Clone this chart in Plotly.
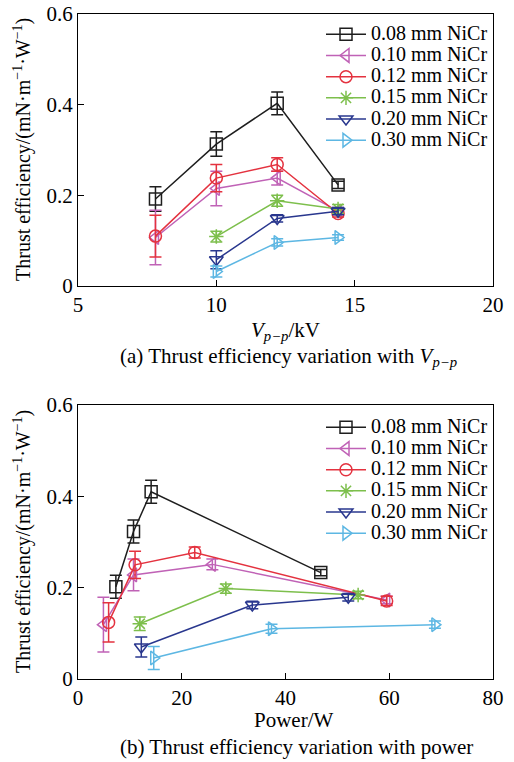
import plotly.graph_objects as go

# ---------------- data ----------------
series_names = ["0.08 mm NiCr", "0.10 mm NiCr", "0.12 mm NiCr",
                "0.15 mm NiCr", "0.20 mm NiCr", "0.30 mm NiCr"]

# (a) efficiency vs Vp-p
vpp_008 = [7.8, 10.0, 12.2, 14.4]
vpp_010 = [7.8, 10.0, 12.2, 14.4]
vpp_012 = [7.8, 10.0, 12.2, 14.4]
vpp_015 = [10.0, 12.2, 14.4]
vpp_020 = [10.0, 12.2, 14.4]
vpp_030 = [10.0, 12.2, 14.4]

eff_a_008 = [0.192, 0.313, 0.403, 0.223]
eff_a_010 = [0.107, 0.215, 0.238, 0.165]
eff_a_012 = [0.110, 0.238, 0.268, 0.160]
eff_a_015 = [0.109, 0.188, 0.170]
eff_a_020 = [0.058, 0.149, 0.165]
eff_a_030 = [0.032, 0.096, 0.107]

err_a_008 = [0.027, 0.027, 0.025, 0.008]
err_a_010 = [0.060, 0.038, 0.015, 0.008]
err_a_012 = [0.046, 0.030, 0.015, 0.008]
err_a_015 = [0.012, 0.012, 0.010]
err_a_020 = [0.020, 0.008, 0.008]
err_a_030 = [0.012, 0.008, 0.006]

# (b) efficiency vs power
pow_008 = [7.3, 10.7, 14.1, 46.8]
pow_010 = [4.9, 10.7, 25.9, 59.5]
pow_012 = [5.9, 11.0, 22.5, 59.5]
pow_015 = [11.9, 28.5, 54.0]
pow_020 = [12.2, 33.6, 52.1]
pow_030 = [14.6, 37.3, 68.8]

eff_b_008 = [0.202, 0.323, 0.410, 0.233]
eff_b_010 = [0.119, 0.228, 0.251, 0.173]
eff_b_012 = [0.124, 0.250, 0.277, 0.171]
eff_b_015 = [0.121, 0.198, 0.184]
eff_b_020 = [0.070, 0.162, 0.179]
eff_b_030 = [0.046, 0.110, 0.119]

err_b_008 = [0.025, 0.025, 0.025, 0.007]
err_b_010 = [0.060, 0.035, 0.012, 0.008]
err_b_012 = [0.043, 0.030, 0.012, 0.010]
err_b_015 = [0.015, 0.010, 0.008]
err_b_020 = [0.022, 0.008, 0.008]
err_b_030 = [0.025, 0.010, 0.008]

x_ticks_a = [5, 10, 15, 20]
x_ticks_b = [0, 20, 40, 60, 80]
y_ticks = [0, 0.2, 0.4, 0.6]
y_tick_text = ["0", "0.2", "0.4", "0.6"]

# ---------------- styles ----------------
colors = ["#1e1e1e", "#c062b6", "#e4323f", "#7dbf4c", "#29378e", "#5db7e3"]
symbols = ["square-open", "triangle-left-open", "circle-open",
           "asterisk-open", "triangle-down-open", "triangle-right-open"]
FONT = "Liberation Serif, Times New Roman, serif"

data_a = [(vpp_008, eff_a_008, err_a_008), (vpp_010, eff_a_010, err_a_010),
          (vpp_012, eff_a_012, err_a_012), (vpp_015, eff_a_015, err_a_015),
          (vpp_020, eff_a_020, err_a_020), (vpp_030, eff_a_030, err_a_030)]
data_b = [(pow_008, eff_b_008, err_b_008), (pow_010, eff_b_010, err_b_010),
          (pow_012, eff_b_012, err_b_012), (pow_015, eff_b_015, err_b_015),
          (pow_020, eff_b_020, err_b_020), (pow_030, eff_b_030, err_b_030)]

fig = go.Figure()

for panel, (dataset, xa, ya, leg) in enumerate([(data_a, "x", "y", "legend"),
                                                (data_b, "x2", "y2", "legend2")]):
    for i, (xs, ys, es) in enumerate(dataset):
        fig.add_trace(go.Scatter(
            x=xs, y=ys, mode="lines+markers",
            name='<span style="font-size:20px">' + series_names[i] + '</span>',
            xaxis=xa, yaxis=ya, legend=leg,
            line=dict(color=colors[i], width=1.5),
            marker=dict(symbol=symbols[i], size=12, color=colors[i],
                        line=dict(width=1.5, color=colors[i])),
            error_y=dict(type="data", array=es, visible=True,
                         color=colors[i], thickness=1.5, width=6),
        ))

axis_common = dict(showline=True, linecolor="black", linewidth=1.2, mirror=True,
                   ticks="inside", ticklen=6, tickwidth=1.2, tickcolor="black",
                   showgrid=False, zeroline=False, automargin=False,
                   tickfont=dict(family=FONT, size=21, color="black"))

fig.update_layout(
    width=514, height=762,
    margin=dict(l=78, r=21, t=14, b=83, autoexpand=False),
    paper_bgcolor="white", plot_bgcolor="white",
    font=dict(family=FONT, color="black"),
    showlegend=True,
    xaxis=dict(domain=[0, 1], anchor="y", range=[5, 20], tickvals=x_ticks_a, **axis_common),
    yaxis=dict(domain=[0.591, 1.0], anchor="x", range=[0, 0.6], tickvals=y_ticks,
               ticktext=y_tick_text, **axis_common),
    xaxis2=dict(domain=[0, 1], anchor="y2", range=[0, 80], tickvals=x_ticks_b, **axis_common),
    yaxis2=dict(domain=[0, 0.412], anchor="x2", range=[0, 0.6], tickvals=y_ticks,
                ticktext=y_tick_text, **axis_common),
    legend=dict(x=1.0, y=0.993, xanchor="right", yanchor="top",
                bgcolor="rgba(0,0,0,0)", font=dict(family=FONT, size=14),
                tracegroupgap=0, itemwidth=40),
    legend2=dict(x=1.0, y=0.402, xanchor="right", yanchor="top",
                 bgcolor="rgba(0,0,0,0)", font=dict(family=FONT, size=14),
                 tracegroupgap=0, itemwidth=40),
)

ytitle = "Thrust efficiency/(mN·m<sup>−1</sup>·W<sup>−1</sup>)"
annotations = [
    dict(text=ytitle, x=22, y=150, textangle=-90, font=dict(family=FONT, size=20)),
    dict(text=ytitle, x=22, y=542, textangle=-90, font=dict(family=FONT, size=20)),
    dict(text="<i>V</i><sub><i>p−p</i></sub>/kV", x=285, y=331,
         font=dict(family=FONT, size=21)),
    dict(text="(a) Thrust efficiency variation with <i>V</i><sub><i>p−p</i></sub>",
         x=288, y=357, font=dict(family=FONT, size=21)),
    dict(text="Power/W", x=293, y=720, font=dict(family=FONT, size=21)),
    dict(text="(b) Thrust efficiency variation with power", x=296, y=747,
         font=dict(family=FONT, size=21)),
]
# convert pixel positions to paper coordinates
plot_left, plot_w = 78, 514 - 78 - 21
plot_top, plot_h = 14, 762 - 14 - 83
final = []
for a in annotations:
    a = dict(a)
    a["x"] = (a["x"] - plot_left) / plot_w
    a["y"] = (plot_top + plot_h - a["y"]) / plot_h
    a["xref"] = "paper"
    a["yref"] = "paper"
    a["xanchor"] = "center"
    a["yanchor"] = "middle"
    a["showarrow"] = False
    final.append(a)
fig.update_layout(annotations=final)

fig.write_html("out.html", config={"displayModeBar": False},
               post_script="document.body.style.margin='0px';document.body.style.overflow='hidden';")
